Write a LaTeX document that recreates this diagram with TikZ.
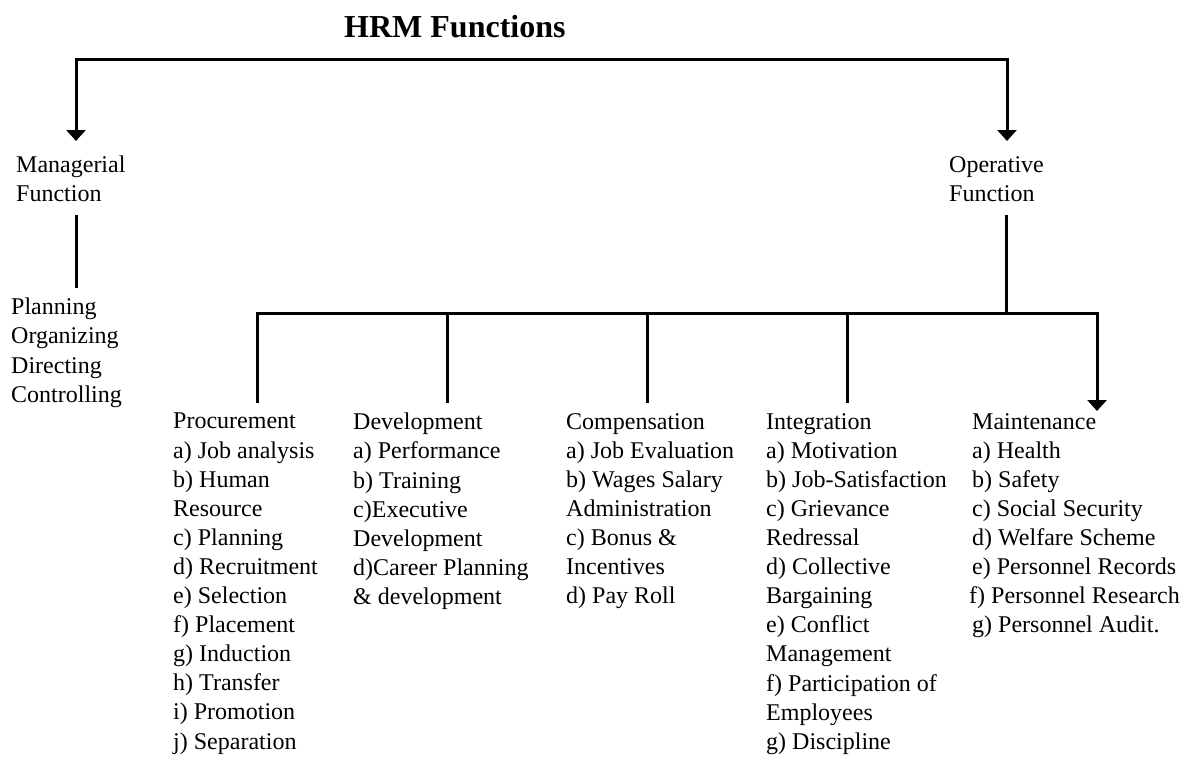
\documentclass[tikz,border=0pt]{standalone}
\usepackage{fontspec}
\setmainfont{Liberation Serif}
\usetikzlibrary{arrows.meta,positioning}

\tikzset{
  entry/.style={anchor=north west, inner sep=0pt, align=left, font=\fontsize{24}{29.1}\selectfont},
  heading/.style={anchor=base west, inner sep=0pt, font=\fontsize{32}{38}\selectfont\bfseries}
  }
\tikzstyle{link} = [draw, line width=3pt, -]
\tikzstyle{pointer} = [draw, line width=3pt, ->]

\begin{document}
\begin{tikzpicture}[x=1pt, y=-1pt, >={Triangle[width=19pt,length=11pt]}]
  \useasboundingbox (0,0) rectangle (1183,758);

  % Title
  \node[heading] (title) at (344,37) {HRM Functions};

  % The two kinds of function
  \node[entry] (mgr) at (16,156) {Managerial\\Function};
  \node[entry] (oper) at (949,156) {Operative\\Function};
  \node[entry] (mgrlist) at (11,298) {Planning\\Organizing\\Directing\\Controlling};

  % The operative branches
  \node[entry] (proc) at (173,413) {Procurement\\a) Job analysis\\b) Human\\Resource\\c) Planning\\d) Recruitment\\e) Selection\\f) Placement\\g) Induction\\h) Transfer\\i) Promotion\\j) Separation};
  \node[entry] (dev) at (353,413) {Development\\a) Performance\\b) Training\\c)Executive\\Development\\d)Career Planning\\\& development};
  \node[entry] (comp) at (566,413) {Compensation\\a) Job Evaluation\\b) Wages Salary\\Administration\\c) Bonus \&\\Incentives\\d) Pay Roll};
  \node[entry] (integ) at (766,413) {Integration\\a) Motivation\\b) Job-Satisfaction\\c) Grievance\\Redressal\\d) Collective\\Bargaining\\e) Conflict\\Management\\f) Participation of\\Employees\\g) Discipline};
  \node[entry] (maint) at (972,413) {Maintenance\\a) Health\\b) Safety\\c) Social Security\\d) Welfare Scheme\\e) Personnel Records\\\hspace*{-3pt}f) Personnel Research\\g) Personnel Audit.};

  % Junction points
  \coordinate (mgrtop) at (76,59);
  \coordinate (opertop) at (1007,59);
  \coordinate (bus) at (1006,313);
  \coordinate (procjoin) at (257,313);
  \coordinate (maintjoin) at (1097,313);

  % The top bracket
  \path[pointer, <->, shorten <=15pt, shorten >=15pt]
    (mgrtop |- mgr.north) |- (opertop) -- (opertop |- oper.north);

  % Down from the two functions
  \path[link, shorten <=13pt, shorten >=10pt] (mgrtop |- mgr.south) -- (mgrtop |- mgrlist.north);
  \path[link, shorten <=13pt] (bus |- oper.south) -- (bus);

  % The branch line
  \path[pointer, shorten <=10pt, shorten >=2pt]
    (procjoin |- proc.north) |- (maintjoin) -- (maintjoin |- maint.north);
  \foreach \col/\x in {dev/447, comp/647, integ/847} {
    \coordinate (drop) at (\x,313);
    \path[link, shorten >=10pt] (drop) -- (drop |- \col.north);
  }

\end{tikzpicture}
\end{document}
